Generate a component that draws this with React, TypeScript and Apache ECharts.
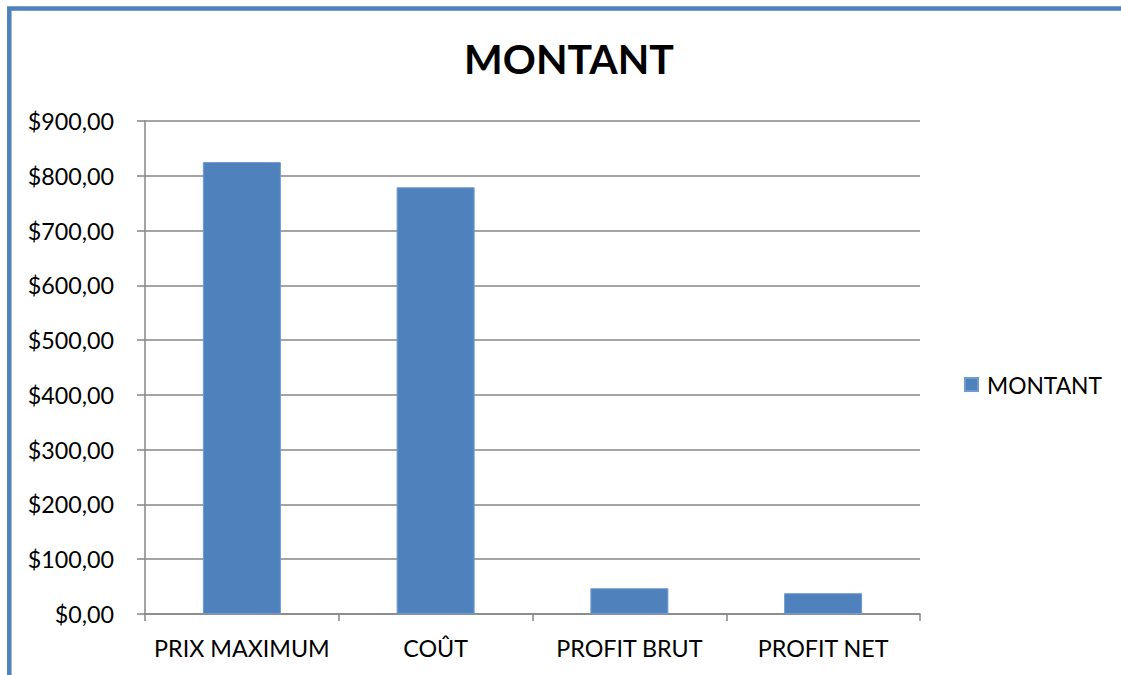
import React, { useEffect, useRef } from "react";
import * as echarts from "echarts";

const categories = ["PRIX MAXIMUM", "COÛT", "PROFIT BRUT", "PROFIT NET"];
const montant = [825, 779, 47, 38];
const seriesName = "MONTANT";
const titleText = "MONTANT";

export default function App() {
  const ref = useRef<HTMLDivElement>(null);
  useEffect(() => {
    if (!ref.current) return;
    const chart = echarts.init(ref.current, undefined, { renderer: "svg" });
    const font = "Lato, 'Open Sans', sans-serif";
    chart.setOption({
      animation: false,
      backgroundColor: "#ffffff",
      title: {
        text: titleText,
        top: 33,
        left: 564,
        textAlign: "center",
        textStyle: { fontFamily: font, fontWeight: "bold", fontSize: 41, color: "#000" },
      },
      graphic: [
        {
          type: "rect",
          shape: { x: 9.3, y: 8.5, width: 1200, height: 800 },
          style: { fill: "none", stroke: "#4F81BD", lineWidth: 4.5 },
          silent: true,
        },
      ],
      legend: {
        left: 964,
        top: 373,
        padding: 0,
        orient: "vertical",
        itemWidth: 13,
        itemHeight: 13,
        itemGap: 8,
        textStyle: { fontFamily: font, fontSize: 22.8, color: "#000", padding: [0, 0, 0, 4] },
        data: [{ name: seriesName, icon: "rect" }],
      },
      grid: { left: 145, right: 201, top: 121, bottom: 61, containLabel: false },
      xAxis: {
        type: "category",
        data: categories,
        axisLine: { lineStyle: { color: "#868686", width: 1.5 } },
        axisTick: { show: true, length: 7, lineStyle: { color: "#868686", width: 1.5 } },
        axisLabel: { interval: 0, fontFamily: font, fontSize: 23.3, color: "#000", margin: 22 },
      },
      yAxis: {
        type: "value",
        min: 0,
        max: 900,
        interval: 100,
        axisLine: { show: true, lineStyle: { color: "#868686", width: 1.5 } },
        axisTick: { show: true, length: 8, lineStyle: { color: "#868686", width: 1.5 } },
        splitLine: { lineStyle: { color: "#868686", width: 1.5 } },
        axisLabel: {
          fontFamily: font,
          fontSize: 23.3,
          color: "#000",
          margin: 31,
          formatter: (v: number) => "$" + v + ",00",
        },
      },
      series: [
        {
          name: seriesName,
          type: "bar",
          data: montant,
          barWidth: 78,
          itemStyle: { color: "#4F81BD", borderColor: "#6F9BD1", borderWidth: 1 },
        },
      ],
    });
    return () => chart.dispose();
  }, []);
  return (
    <div
      ref={ref}
      style={{ position: "fixed", left: 0, top: 0, width: 1121, height: 675 }}
    />
  );
}
